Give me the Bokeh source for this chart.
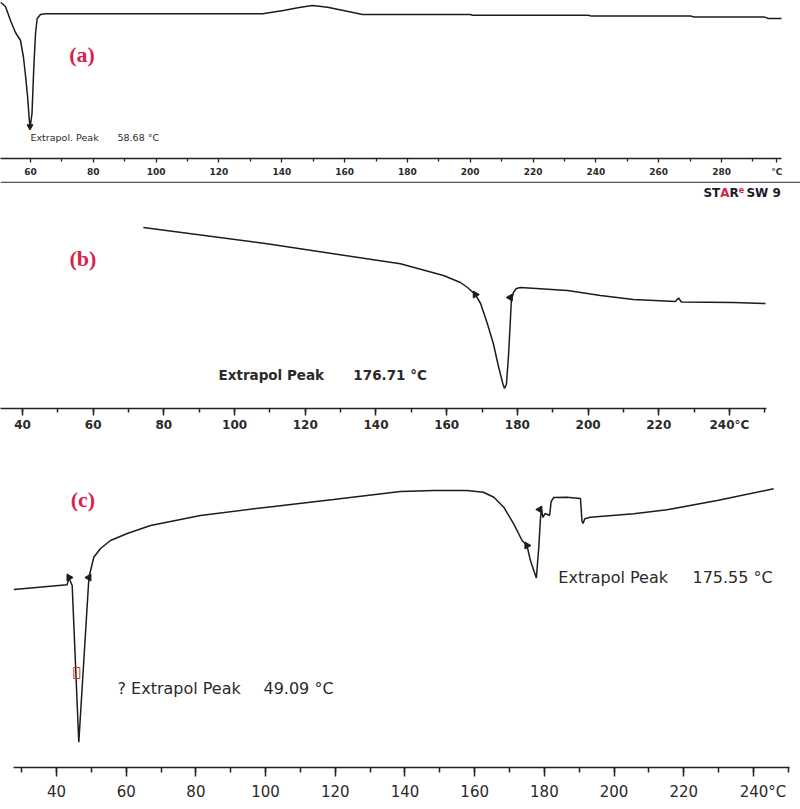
import math
import numpy as np
from bokeh.plotting import figure
from bokeh.models import Range1d, SingleIntervalTicker, FixedTicker, Label, Span
from bokeh.layouts import column
from bokeh.embed import file_html
from bokeh.resources import INLINE

# ---------------- data ----------------
# panel (a)
a_T = [50.45, 52.04, 53.63, 55.22, 56.82, 57.77, 58.41, 59.04, 59.52, 59.84, 60.48, 61.05,
       61.6, 62.13, 63.18, 64.78, 133.9, 140.5, 146.0, 149.8, 154.6, 159.6, 165.7, 200.1,
       200.7, 237.6, 238.6, 270.1, 271.4, 293.7, 295.0, 299.1]
a_hf = [15.83, 15.4, 14.0, 12.8, 12.0, 10.3, 8.5, 6.5, 4.5, 3.2, 4.7, 9.3,
        12.7, 14.2, 14.6, 14.67, 14.67, 15.0, 15.33, 15.5, 15.33, 15.0, 14.6, 14.6,
        14.53, 14.53, 14.44, 14.44, 14.34, 14.34, 14.2, 14.2]
a_major_ticks = [60, 80, 100, 120, 140, 160, 180, 200, 220, 240, 260, 280]
a_minor_ticks = [70, 90, 110, 130, 150, 170, 190, 210, 230, 250, 270, 290]
a_unit_tick = 297.6
a_peak_T = [59.84]
a_peak_hf = [3.4]
a_peak_text = "Extrapol. Peak"
a_peak_val = "58.68 °C"

# panel (b)
b_T = [74.2, 109.2, 146.9, 159.1, 163.9, 165.9, 168.1, 169.6, 171.5, 173.2, 174.6, 175.8,
       176.35, 176.9, 177.5, 178.05, 178.3, 178.9, 179.7, 180.9, 194.2, 203.5, 212.8, 224.7,
       225.6, 226.4, 241.1, 250.2]
b_hf = [17.3, 15.67, 13.67, 12.5, 11.8, 11.3, 10.6, 9.7, 7.7, 5.7, 3.5, 1.8,
        1.2, 1.6, 4.5, 8.2, 10.0, 10.8, 11.2, 11.3, 11.0, 10.5, 10.1, 9.9,
        10.25, 9.85, 9.8, 9.7]
b_mark_T = [168.1, 178.0]
b_mark_hf = [10.6, 10.3]
b_mark_dir = [-1, 1]
b_peak_text = "Extrapol Peak"
b_peak_val = "176.71 °C"

# panel (c)
c_T = [27.75, 43.07, 43.53, 44.5, 46.4, 49.3, 50.7, 52.63, 55.5, 60.3, 67.0, 81.3, 100.5,
       119.5, 138.7, 148.2, 157.8, 162.5, 165.5, 168.35, 171.2, 173.6, 175.0, 176.0, 177.7,
       178.4, 178.9, 179.2, 179.6, 180.2, 180.9, 181.5, 181.95, 182.7, 186.5, 190.36, 190.8,
       191.1, 191.6, 193.2, 205.65, 215.2, 229.6, 245.8]
c_hf = [18.1, 18.57, 19.3, 18.5, 2.83, 19.3, 21.33, 22.2, 23.0, 23.7, 24.5, 25.5, 26.33,
        27.1, 27.9, 28.0, 28.0, 27.83, 27.33, 26.33, 24.67, 23.0, 22.5, 21.0, 19.25,
        22.33, 25.33, 26.05, 25.3, 25.7, 25.6, 25.5, 26.9, 27.3, 27.33, 27.2, 24.9,
        24.7, 25.17, 25.33, 25.67, 26.07, 27.0, 28.17]
c_mark_T = [43.6, 49.3, 175.0, 178.7]
c_mark_hf = [19.3, 19.3, 22.5, 26.1]
c_mark_dir = [-1, 1, -1, 1]
c_cursor_T = [45.83]
c_cursor_hf = [9.75]
c_peak1_text = "? Extrapol Peak"
c_peak1_val = "49.09 °C"
c_peak2_text = "Extrapol Peak"
c_peak2_val = "175.55 °C"

tick_interval = 20

# ---------------- styles ----------------
CURVE = "#1c1c1c"
RED = "#d6234c"
TXT = "#2a2a2a"
FONT = "DejaVu Sans"
SERIF = "Liberation Serif"
W = 800


def make_fig(height, xr, yr, bottom):
    p = figure(width=W, height=height, x_range=Range1d(*xr), y_range=Range1d(*yr),
               output_backend="svg", toolbar_location=None, y_axis_location=None,
               min_border_left=0, min_border_right=0, min_border_top=0,
               min_border_bottom=bottom)
    p.outline_line_color = None
    p.grid.visible = False
    p.background_fill_color = "white"
    p.border_fill_color = "white"
    return p


def style_axis(p, bounds, size, bold, tick_out, minor_out, standoff, lw):
    ax = p.xaxis[0]
    ax.ticker = SingleIntervalTicker(interval=tick_interval, num_minor_ticks=2)
    ax.bounds = bounds
    ax.axis_line_color = "#222222"
    ax.axis_line_width = lw
    ax.major_tick_line_color = "#222222"
    ax.minor_tick_line_color = "#222222"
    ax.major_tick_line_width = lw
    ax.minor_tick_line_width = lw
    ax.major_tick_in = 0
    ax.minor_tick_in = 0
    ax.major_tick_out = tick_out
    ax.minor_tick_out = minor_out
    ax.major_label_standoff = standoff
    ax.major_label_text_font = FONT
    ax.major_label_text_font_size = size
    ax.major_label_text_font_style = "bold" if bold else "normal"
    ax.major_label_text_color = TXT
    return ax


def lab(p, x, y, text, size, color=TXT, align="left", font=FONT, style="normal"):
    p.add_layout(Label(x=x, y=y, text=text, text_font=font, text_font_size=size,
                       text_color=color, text_align=align, text_baseline="middle",
                       text_font_style=style))


def flags(p, xs, ys, dirs):
    p.scatter(xs, ys, marker="triangle", size=7, angle=[d * math.pi / 2 for d in dirs],
              color=CURVE)


# ---------------- panel (a) ----------------
pa = make_fig(181, (50.45, 305.14), (0.2, 16.0), 23)
axa = style_axis(pa, (50.45, 299.1), "9px", True, 4, 3, 4, 1.3)
axa.ticker = FixedTicker(ticks=a_major_ticks + [a_unit_tick], minor_ticks=a_minor_ticks)
axa.major_label_overrides = {a_unit_tick: "°C"}
pa.line(a_T, a_hf, line_color=CURVE, line_width=1.5)
pa.scatter(a_peak_T, a_peak_hf, marker="inverted_triangle", size=6, color=CURVE)
lab(pa, 76.4, 10.6, "(a)", "22px", RED, "center", SERIF, "bold")
lab(pa, 60.0, 2.3, a_peak_text, "9.5px")
lab(pa, 87.7, 2.3, a_peak_val, "9.5px")

# ---------------- panel (b) ----------------
pb = make_fig(259, (33.78, 260.1), (-0.8, 21.9), 32)
axb = style_axis(pb, (33.8, 250.4), "12px", True, 7, 4, 2, 1.5)
axb.major_label_overrides = {240: "240°C"}
pb.add_layout(Span(location=21.83, dimension="width", line_color="#555555", line_width=1.5))
pb.line(b_T, b_hf, line_color=CURVE, line_width=1.5)
flags(pb, b_mark_T, b_mark_hf, b_mark_dir)
lab(pb, 57.1, 14.2, "(b)", "22px", RED, "center", SERIF, "bold")
lab(pb, 95.45, 2.55, b_peak_text, "13.5px", TXT, "left", FONT, "bold")
lab(pb, 133.6, 2.55, b_peak_val, "13.5px", TXT, "left", FONT, "bold")
# STARe SW 9 logo text
lab(pb, 232.65, 20.8, "ST", "12px", "#1a1a2a", "left", FONT, "bold")
lab(pb, 237.4, 20.8, "A", "12px", RED, "left", FONT, "bold")
lab(pb, 240.0, 20.8, "R", "12px", "#1a1a2a", "left", FONT, "bold")
lab(pb, 242.6, 21.1, "e", "8px", RED, "left", FONT, "bold")
lab(pb, 244.8, 20.8, "SW 9", "12px", "#1a1a2a", "left", FONT, "bold")

# ---------------- panel (c) ----------------
pc = make_fig(366, (23.93, 253.5), (0.3, 33.0), 39)
axc = style_axis(pc, (27.7, 250.3), "15px", False, 9, 5, 6, 1.5)
axc.major_label_overrides = {240: "\u2007\u2007240°C"}
pc.line(c_T, c_hf, line_color=CURVE, line_width=1.5)
flags(pc, c_mark_T, c_mark_hf, c_mark_dir)
pc.rect(c_cursor_T, c_cursor_hf, width=1.72, height=1.1, fill_color=None,
        line_color="#e0301e", line_width=1)
lab(pc, 47.6, 27.1, "(c)", "22px", RED, "center", SERIF, "bold")
lab(pc, 57.5, 8.2, c_peak1_text, "16px")
lab(pc, 99.4, 8.2, c_peak1_val, "16px")
lab(pc, 184.0, 19.3, c_peak2_text, "16px")
lab(pc, 222.5, 19.3, c_peak2_val, "16px")

layout = column(pa, pb, pc, spacing=0)
open("out.html", "w").write(file_html(layout, INLINE))
